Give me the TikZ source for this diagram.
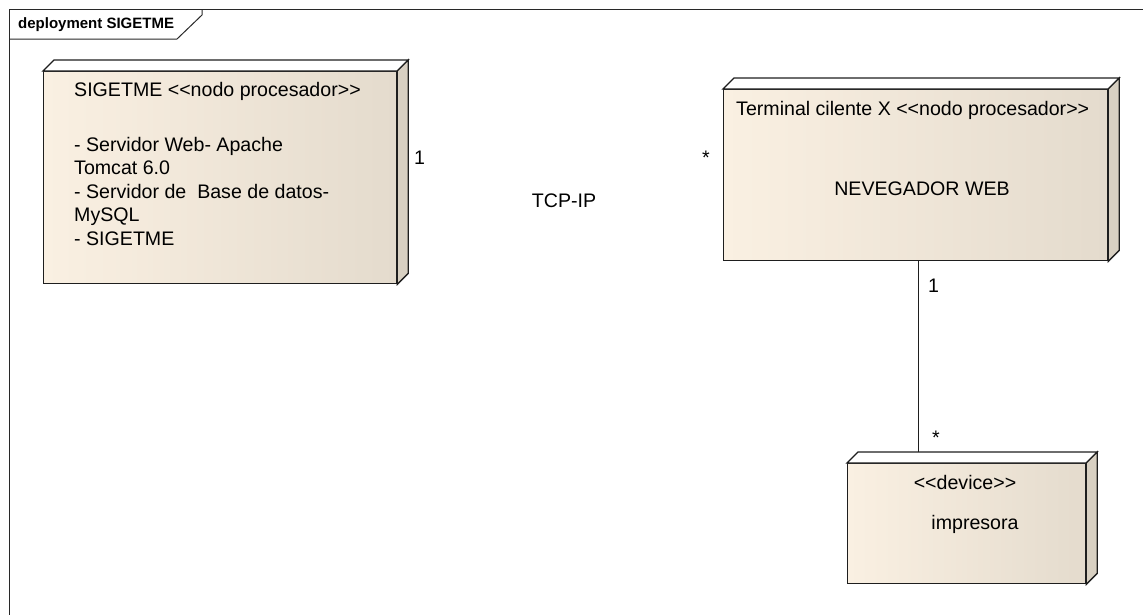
\documentclass[tikz,border=0pt]{standalone}
\usepackage{fontspec}
\newfontfamily\af{Liberation Sans}
\definecolor{edge}{RGB}{30,30,30}
\definecolor{front1}{RGB}{250,240,226}
\definecolor{front2}{RGB}{228,219,205}
\definecolor{sidec}{RGB}{216,208,194}
\definecolor{framec}{RGB}{40,40,40}
\newcommand{\nodedeco}[1]{%
  \draw[edgeline, fill=white] (#1.north west) -- ++(11,-11) -- ([shift={(11,-11)}]#1.north east) -- (#1.north east) -- cycle;
  \draw[edgeline, fill=sidec] (#1.north east) -- ++(11,-11) -- ([shift={(11,-11)}]#1.south east) -- (#1.south east) -- cycle;
}
\begin{document}
\begin{tikzpicture}[x=1pt,y=-1pt,
  edgeline/.style={draw=edge, line width=1.3pt, line join=miter},
  dnode/.style={edgeline, anchor=north west, inner sep=0pt, left color=front1, middle color=front1, right color=front2},
  lbl/.style={font=\af\fontsize{19.6}{23.5}\selectfont, inner sep=0pt, text=black},
  framelbl/.style={font=\af\bfseries\fontsize{15}{18}\selectfont, inner sep=0pt, text=black},
  conn/.style={draw=edge, line width=1pt}]
\useasboundingbox (0,0) rectangle (1143,614);
% frame
\draw[draw=framec, line width=1pt] (9.5,620) -- (9.5,9.5) -- (1150,9.5);
\draw[draw=framec, line width=1pt] (9.5,39) -- (177,39) -- (202,15) -- (202,9.5);
\node[framelbl, anchor=base west] (frametitle) at (18,28.5) {deployment SIGETME};
% nodes
\node[dnode, minimum width=353pt, minimum height=212pt] (sig) at (43,71) {};
\nodedeco{sig}
\node[dnode, minimum width=384pt, minimum height=171pt] (term) at (723,89) {};
\nodedeco{term}
\node[dnode, minimum width=238pt, minimum height=120pt] (prt) at (847,463) {};
\nodedeco{prt}
% texts in SIGETME
\node[lbl, anchor=base west] (sigtitle) at (74,96) {SIGETME <<nodo procesador>>};
\foreach \t [count=\i] in {- Servidor Web- Apache, Tomcat 6.0, - Servidor de\ \ Base de datos-, MySQL, - SIGETME}
  \node[lbl, anchor=base west] (sigl\i) at (74,{151+23.5*(\i-1)}) {\t};
% texts in terminal
\node[lbl, anchor=base west] (termtitle) at (736,115) {Terminal cilente X <<nodo procesador>>};
\node[lbl, anchor=base] (termbody) at (922,195) {NEVEGADOR WEB};
% texts in printer
\node[lbl, anchor=base] (prttitle) at (965,489) {<<device>>};
\node[lbl, anchor=base] (prtbody) at (975,529) {impresora};
% connector labels (TCP-IP link)
\node[lbl, anchor=base west] (m1) at (414,164) {1};
\node[lbl, anchor=base west] (m2) at (702,164) {*};
\node[lbl, anchor=base] (tcp) at (564,207) {TCP-IP};
% terminal - printer connector
\coordinate (ptop) at (918,452);
\draw[conn] (term.south -| ptop) -- (ptop);
\node[lbl, anchor=base west] (m3) at (928,292) {1};
\node[lbl, anchor=base west] (m4) at (932,444) {*};
\end{tikzpicture}
\end{document}
